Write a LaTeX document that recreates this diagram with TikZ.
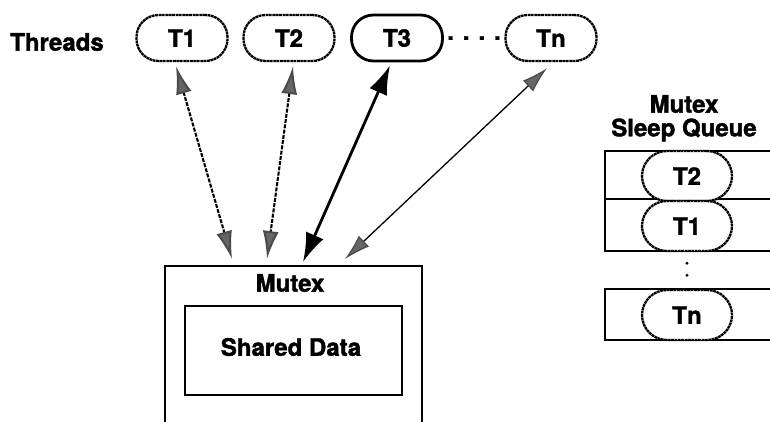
\documentclass[tikz,border=0pt]{standalone}
\usepackage{fontspec}
\setmainfont{TeX Gyre Heros}[BoldFeatures={FakeBold=1.6}]
\usetikzlibrary{arrows.meta,calc}

\tikzset{
  lbl/.style={font=\fontsize{24}{26}\selectfont\bfseries, inner sep=0pt},
  pill/.style={lbl, draw, line width=2.3pt, fill=white,
    minimum width=91pt, minimum height=46pt, rounded corners=22pt},
  dottedpill/.style={pill, dash pattern=on 2.8pt off 0.6pt},
  qpill/.style={pill, dash pattern=on 2.8pt off 0.6pt,
    minimum width=90pt, minimum height=50pt, rounded corners=25pt},
  softlink/.style={line width=2.1pt, dash pattern=on 4pt off 1.3pt,
    arrows={Latex[length=28pt,width=16pt,fill=black!60,color=black!70]-Latex[length=28pt,width=16pt,fill=black!60,color=black!70]}},
  hardlink/.style={line width=2.8pt,
    arrows={Latex[length=29pt,width=19pt]-Latex[length=29pt,width=19pt]}},
  thinlink/.style={line width=1.3pt,
    arrows={Latex[length=26pt,width=15pt,fill=black!60,color=black!70]-Latex[length=26pt,width=15pt,fill=black!60,color=black!70]}},
  boxline/.style={line width=2.4pt}
}

\begin{document}
\begin{tikzpicture}[x=1pt,y=-1pt]
\clip (0,0) rectangle (770,421);
\fill[white] (0,0) rectangle (770,421);

% threads row
\node[lbl] (threads) at (57,42) {Threads};
\node[dottedpill] (t1) at (182,38) {T1};
\node[dottedpill] (t2) at (289,38) {T2};
\node[pill, line width=2.8pt] (t3) at (397,38) {T3};
\node[lbl] (dots) at (474,38) {. . . .};
\node[dottedpill] (tn) at (551,38) {Tn};

% the mutex and the data it guards (box runs off the bottom)
\node[minimum width=257pt, minimum height=160pt, inner sep=0pt] (mutex) at (293.5,346) {};
\draw[boxline] (mutex.south west) -- (mutex.north west) -- (mutex.north east) -- (mutex.south east);
\node[lbl] (mutexlbl) at (290,283) {Mutex};
\node[draw, line width=2.3pt, minimum width=217pt, minimum height=89pt, inner sep=0pt] (shared) at (293.5,350.5) {};
\node[lbl] (sharedlbl) at (291,347) {Shared Data};

% where the links meet the top of the mutex
\coordinate (m1) at (232,259);
\coordinate (m2) at (267,259);
\coordinate (m3) at (303,262);
\coordinate (m4) at (345,259);

\draw[softlink] ([xshift=-6pt,yshift=-4pt]t1.south) -- (m1);
\draw[softlink] ([xshift=4pt,yshift=-4pt]t2.south) -- (m2);
\draw[hardlink] ([xshift=-7pt,yshift=-3pt]t3.south) -- (m3);
\draw[thinlink] ([xshift=-4pt,yshift=-6pt]tn.south) -- (m4);

% sleep queue of the mutex
\node[lbl] (sqtitle1) at (684,104) {Mutex};
\node[lbl] (sqtitle2) at (684,130) {Sleep Queue};
\node[minimum width=170pt, minimum height=48pt, inner sep=0pt] (q1) at (690,175) {};
\node[minimum width=170pt, minimum height=52pt, inner sep=0pt] (q2) at (690,225) {};
\node[minimum width=170pt, minimum height=51pt, inner sep=0pt] (q3) at (690,314.5) {};
\draw[boxline] (q1.north east) -- (q1.north west) -- (q2.south west) -- (q2.south east);
\draw[boxline] (q1.south west) -- (q1.south east);
\draw[boxline] (q3.north east) -- (q3.north west) -- (q3.south west) -- (q3.south east);
\node[qpill] (qt2) at (687,176) {T2};
\node[qpill] (qt1) at (687,226) {T1};
\node[qpill] (qtn) at (687,315) {Tn};
\fill (q2.south -| qt1.center) ++(0,12) circle (1.6pt) coordinate (d1);
\fill (q2.south -| qt1.center) ++(0,24) circle (1.6pt) coordinate (d2);
\end{tikzpicture}
\end{document}
